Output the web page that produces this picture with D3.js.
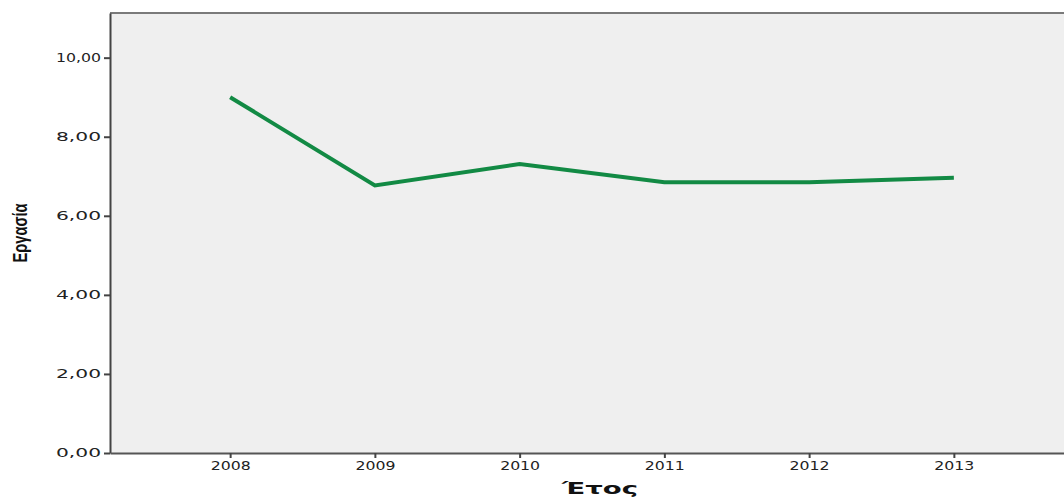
<!DOCTYPE html>
<html>
<head>
<meta charset="utf-8">
<script src="https://cdn.jsdelivr.net/npm/d3@7"></script>
<style>
  html, body { margin: 0; padding: 0; background: #ffffff; }
  svg { display: block; }
</style>
</head>
<body>
<svg id="chart" width="1064" height="497"></svg>
<script>
// Yearly mean of "Εργασία"
const years = ["2008", "2009", "2010", "2011", "2012", "2013"];
const values = [9.00, 6.77, 7.31, 6.85, 6.85, 6.96];
const yTicks = [0, 2, 4, 6, 8, 10];
const yTitle = "Εργασία";
const xTitle = "Έτος";

const svg = d3.select("#chart");
const plotLeft = 110, plotTop = 13, plotRight = 1074, plotBottom = 453;

const x = d3.scalePoint().domain(years).range([plotLeft, plotRight]).padding(0.83);
const y = d3.scaleLinear().domain([0, 11.13]).range([plotBottom, plotTop]);

// plot background
svg.append("rect")
  .attr("x", plotLeft).attr("y", plotTop)
  .attr("width", plotRight - plotLeft).attr("height", plotBottom - plotTop)
  .attr("fill", "#efefef");

// top frame line
svg.append("line")
  .attr("x1", plotLeft).attr("x2", plotRight)
  .attr("y1", plotTop).attr("y2", plotTop)
  .attr("stroke", "#7a7a7a").attr("stroke-width", 2);

const fmt = d => d.toFixed(2).replace(".", ",");

// y axis
const gy = svg.append("g").attr("transform", `translate(${plotLeft},0)`)
  .call(d3.axisLeft(y).tickValues(yTicks).tickFormat(fmt).tickSize(6).tickSizeOuter(0));
gy.select(".domain").attr("stroke", "#444").attr("stroke-width", 2);
gy.selectAll(".tick line").attr("stroke", "#444").attr("stroke-width", 2);
gy.selectAll(".tick text")
  .attr("fill", "#222")
  .attr("font-family", "DejaVu Sans, sans-serif")
  .attr("font-size", 12)
  .attr("x", -9)
  .attr("textLength", 45)
  .attr("lengthAdjust", "spacingAndGlyphs");

// x axis
const gx = svg.append("g").attr("transform", `translate(0,${plotBottom})`)
  .call(d3.axisBottom(x).tickSize(5).tickSizeOuter(0));
gx.select(".domain").attr("stroke", "#555").attr("stroke-width", 2);
gx.selectAll(".tick line").attr("stroke", "#444").attr("stroke-width", 2);
gx.selectAll(".tick text")
  .attr("fill", "#222")
  .attr("font-family", "DejaVu Sans, sans-serif")
  .attr("font-size", 12)
  .attr("y", 8)
  .attr("textLength", 40)
  .attr("lengthAdjust", "spacingAndGlyphs");

// data line
const line = d3.line().x((d, i) => x(years[i])).y(d => y(d));
svg.append("path")
  .datum(values)
  .attr("d", line)
  .attr("fill", "none")
  .attr("stroke", "#128a44")
  .attr("stroke-width", 4)
  .attr("stroke-linejoin", "miter");

// axis titles
svg.append("text")
  .attr("transform", "translate(27,233) rotate(-90)")
  .attr("text-anchor", "middle")
  .attr("font-family", "Liberation Sans, Arial, sans-serif")
  .attr("font-weight", "bold")
  .attr("font-size", 21)
  .attr("textLength", 59)
  .attr("lengthAdjust", "spacingAndGlyphs")
  .attr("fill", "#111")
  .text(yTitle);

svg.append("text")
  .attr("x", 600).attr("y", 494)
  .attr("text-anchor", "middle")
  .attr("font-family", "DejaVu Sans, sans-serif")
  .attr("font-weight", "bold")
  .attr("font-size", 16)
  .attr("textLength", 76)
  .attr("lengthAdjust", "spacingAndGlyphs")
  .attr("fill", "#111")
  .text(xTitle);
</script>
</body>
</html>
